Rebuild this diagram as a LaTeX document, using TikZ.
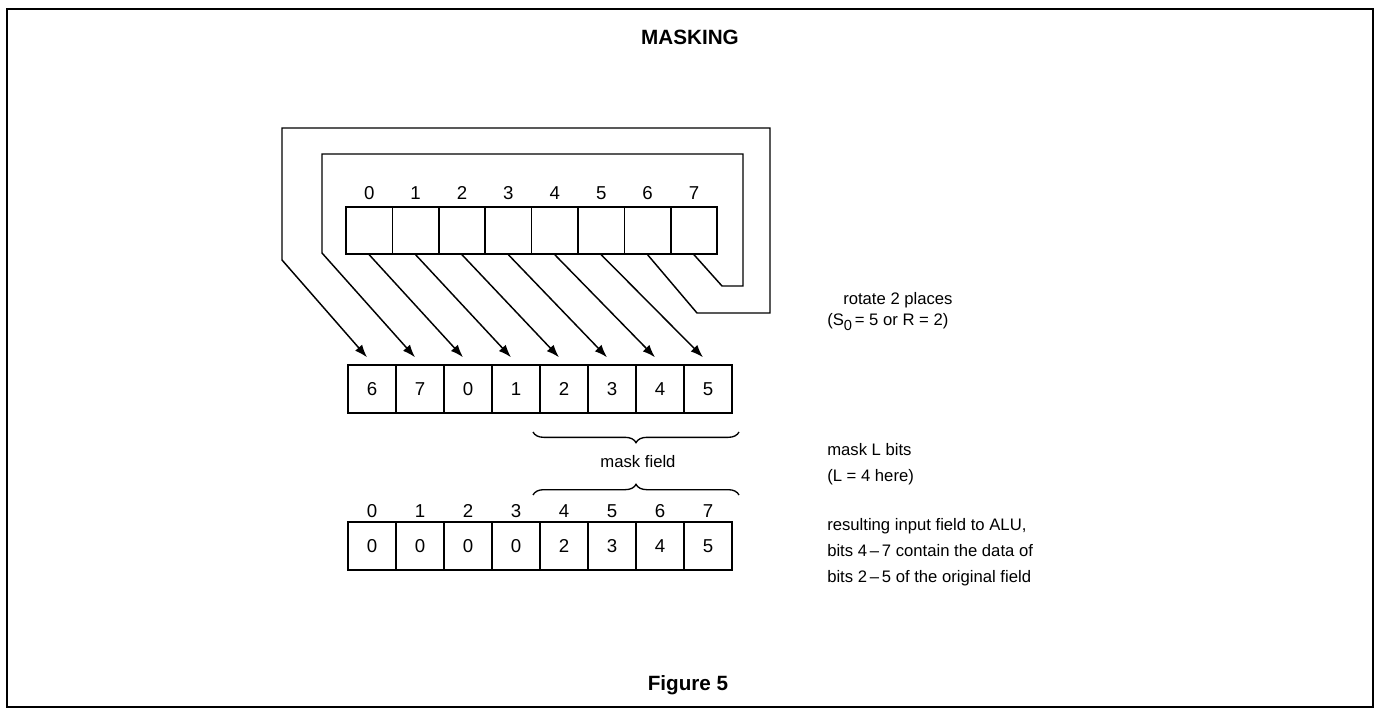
\documentclass[tikz,border=0pt]{standalone}
\usepackage{fontspec}
\setmainfont{Liberation Sans}
\usetikzlibrary{arrows.meta,decorations.pathreplacing,calc}
\begin{document}
\begin{tikzpicture}[x=0.75pt,y=-0.75pt,
  cell/.style={draw, line width=1.1pt, inner sep=0pt, text height=10pt, text depth=0pt, font=\fontsize{14}{16}\selectfont},
  topcell/.style={cell, minimum width=34.8pt, minimum height=35.25pt},
  botcell/.style={cell, minimum width=36pt, minimum height=36pt},
  lbl/.style={inner sep=0pt, text height=10pt, text depth=0pt, font=\fontsize{14}{16}\selectfont},
  txt/.style={inner sep=0pt, anchor=west, align=left, font=\fontsize{12.5}{19.5}\selectfont},
  arr/.style={line width=1.1pt, -{Latex[length=9.5pt,width=7pt]}},
  br/.style={line width=1pt, decorate, decoration={brace, amplitude=8pt, aspect=0.5}},
  heading/.style={inner sep=0pt, font=\bfseries\fontsize{15.5}{18}\selectfont}]
\useasboundingbox (0,0) rectangle (1376,709);
\draw[line width=1.8pt] (7,9) rectangle (1373,707);
\node[heading] (title) at (690,37) {MASKING};
\node[heading] (fig) at (688,685) {Figure 5};
% top register
\foreach \i in {0,...,7} {
  \node[topcell] (t\i) at ({369.2+46.4*\i},230.5) {};
  \node[lbl] (tl\i) at ({369.2+46.4*\i},193) {\i};
}
% rotated register
\foreach \v [count=\i from 0] in {6,7,0,1,2,3,4,5} {
  \node[botcell] (m\i) at ({372+48*\i},389) {\v};
  \coordinate (p\i) at ($(m\i.north)+(-5,-7)$);
}
% result register
\foreach \v [count=\i from 0] in {0,0,0,0,2,3,4,5} {
  \node[botcell] (r\i) at ({372+48*\i},546) {\v};
  \node[lbl] (rl\i) at ({372+48*\i},511) {\the\numexpr\i\relax};
}
% straight arrows
\foreach \i in {0,...,5} {
  \pgfmathtruncatemacro\j{\i+2}
  \draw[arr] (t\i.south) -- (p\j);
}
% wrap-around paths
\coordinate (a1) at (697,313);
\coordinate (a2) at (770,313);
\coordinate (a3) at (770,128);
\coordinate (a4) at (282,128);
\coordinate (a5) at (282,260);
\draw[arr] (t6.south) -- (a1) -- (a2) -- (a3) -- (a4) -- (a5) -- (p0);
\coordinate (b1) at (722,286);
\coordinate (b2) at (743,286);
\coordinate (b3) at (743,154);
\coordinate (b4) at (322,154);
\coordinate (b5) at (322,253);
\draw[arr] (t7.south) -- (b1) -- (b2) -- (b3) -- (b4) -- (b5) -- (p1);
% braces
\coordinate (u1) at (739,432);
\coordinate (u2) at (533,432);
\draw[br] (u1) -- (u2);
\node[inner sep=0pt, font=\fontsize{12.5}{14}\selectfont] (mf) at (638,462) {mask field};
\coordinate (v1) at (533,495);
\coordinate (v2) at (739,495);
\draw[br] (v1) -- (v2);
% right texts
\node[txt] (rot1) at (843,300) {rotate 2 places};
\node[txt] (rot2) at (827,322) {(S\raisebox{-3.5pt}{\fontsize{11}{12}\selectfont 0}\,= 5 or R = 2)};
\node[txt] (mask) at (827,464) {mask L bits\\(L = 4 here)};
\node[txt] (res) at (827,552) {resulting input field to ALU,\\bits 4\,--\,7 contain the data of\\bits 2\,--\,5 of the original field};
\end{tikzpicture}
\end{document}
